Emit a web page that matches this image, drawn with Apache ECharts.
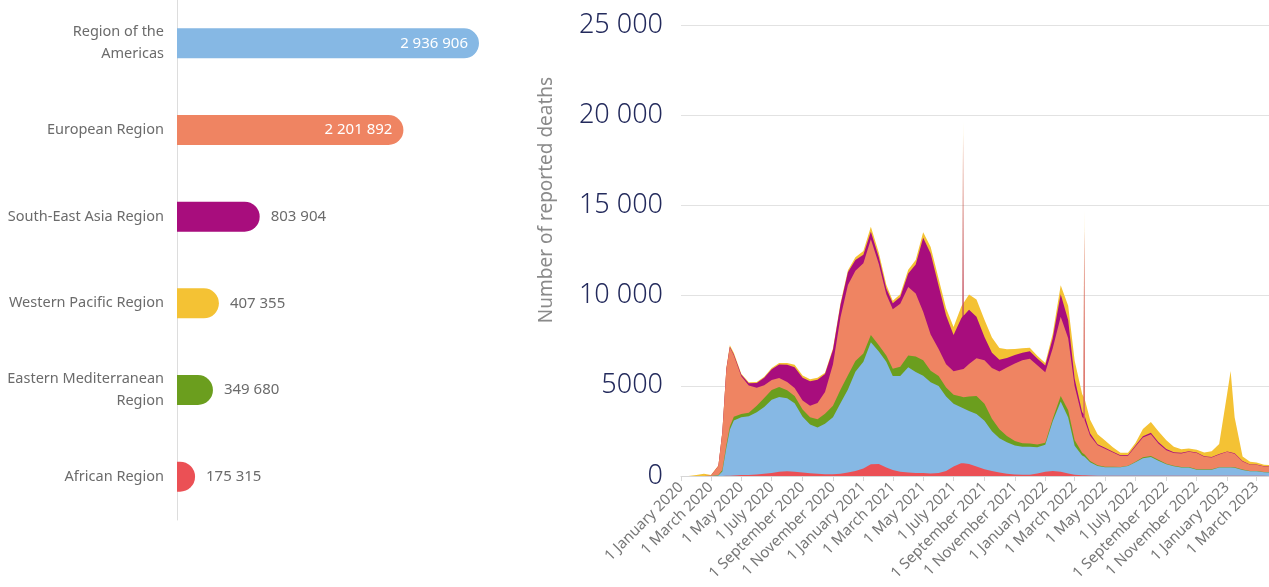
<!DOCTYPE html>
<html>
<head>
<meta charset="utf-8">
<title>Reported COVID-19 deaths by WHO region</title>
<script src="https://cdn.jsdelivr.net/npm/echarts@6/dist/echarts.min.js"></script>
<style>
  html, body { margin: 0; padding: 0; background: #fff; }
  #chart { width: 1269px; height: 587px; }
</style>
</head>
<body>
<div id="chart"></div>
<script>
// left panel: cumulative deaths per region
var regionNames = ["Region of the\nAmericas", "European Region", "South-East Asia Region",
  "Western Pacific Region", "Eastern Mediterranean\nRegion", "African Region"];
var regionTotals = [2936906, 2201892, 803904, 407355, 349680, 175315];
var regionColors = ["#86b8e4", "#ef8462", "#a80d7d", "#f4c234", "#6b9e1e", "#eb5055"];

// right panel: reported deaths (~half-monthly)
var dates = [
  "2020-01-01","2020-01-16","2020-02-01","2020-02-16","2020-03-01","2020-03-16","2020-03-24","2020-04-01","2020-04-08","2020-04-16",
  "2020-05-01","2020-05-16","2020-06-01","2020-06-16","2020-07-01","2020-07-16","2020-08-01","2020-08-16","2020-09-01","2020-09-16",
  "2020-10-01","2020-10-16","2020-11-01","2020-11-16","2020-12-01","2020-12-16",
  "2021-01-01","2021-01-16","2021-02-01","2021-02-16","2021-03-01","2021-03-16","2021-04-01","2021-04-16","2021-05-01","2021-05-16",
  "2021-06-01","2021-06-16","2021-07-01","2021-07-16","2021-07-19","2021-07-20","2021-07-21","2021-08-01","2021-08-16","2021-09-01",
  "2021-09-16","2021-10-01","2021-10-16","2021-11-01","2021-11-16","2021-12-01","2021-12-16",
  "2022-01-01","2022-01-16","2022-02-01","2022-02-16","2022-03-01","2022-03-16","2022-03-19","2022-03-20","2022-03-21","2022-04-01",
  "2022-04-16","2022-05-01","2022-05-16","2022-06-01","2022-06-16","2022-07-01","2022-07-16","2022-08-01","2022-08-16","2022-09-01",
  "2022-09-16","2022-10-01","2022-10-16","2022-11-01","2022-11-16","2022-12-01","2022-12-16",
  "2023-01-01","2023-01-08","2023-01-16","2023-02-01","2023-02-16","2023-03-01","2023-03-16","2023-03-26"
];
var africa = [
  0,0,0,0,0,2,5,10,20,30, 50,60,90,130,170,230,260,230,190,150, 120,100,100,130,190,280,
  420,650,660,470,330,240,190,170,160,140, 170,280,520,700,700,700,700,660,520,380, 280,190,120,85,65,65,140,
  230,280,230,140,75,40,38,38,36,28, 20,20,20,20,20,20,20,18,15,15, 12,12,10,10,10,10,10,
  10,10,10,8,8,8,8,8
];
var americas = [
  0,0,0,0,0,20,250,1550,2550,3050, 3200,3250,3450,3700,4050,4150,4050,3800,3100,2700, 2570,2800,3150,3900,4600,5500,
  5920,6770,6240,5860,5220,5310,5840,5600,5400,5050, 4820,4120,3490,3110,3080,3050,3030,2950,2910,2680, 2200,1900,1750,1600,1550,1550,1450,
  1500,2750,3900,3100,1600,1100,1050,1040,1030,730, 540,460,460,460,530,740,970,1030,830,630, 530,460,460,340,340,340,460,
  460,460,450,330,250,250,200,190
];
var easternMed = [
  0,0,0,0,5,30,80,150,170,200, 180,200,350,500,550,550,450,400,400,400, 450,550,650,750,800,600,
  450,400,350,350,400,500,650,850,850,650, 550,500,500,600,620,630,640,800,1000,950, 700,500,350,250,200,180,150,
  120,150,300,400,300,150,140,140,130,80, 40,30,30,25,25,30,50,60,50,35, 30,25,25,20,20,20,20,
  20,20,20,20,15,15,15,15
];
var europe = [
  0,0,0,0,5,500,2100,4200,4400,3400, 2100,1500,1000,700,550,500,450,450,500,650, 900,1200,2300,4000,5000,5000,
  5000,5300,4500,3400,3300,3500,3800,3500,2700,2000, 1500,1300,1300,1500,1550,1550,1560,1800,2100,2400, 2800,3200,3800,4300,4600,4700,4400,
  3900,3900,4400,4000,3000,2000,1950,12300,1900,1400, 1100,1000,800,600,550,850,1100,1200,900,750, 700,750,850,900,700,650,700,
  850,800,750,450,350,350,300,300
];
var southEastAsia = [
  0,0,0,0,0,2,5,15,30,50, 80,130,270,420,600,750,950,1150,1250,1350, 1300,1000,800,700,700,600,
  480,420,370,320,320,370,750,1600,4100,4500, 3500,2700,2000,2800,2900,13000,2950,3000,2300,1300, 850,650,520,470,420,420,370,
  370,550,1250,1000,420,260,250,250,240,130, 65,55,45,40,40,45,65,85,85,65, 45,35,30,30,30,30,30,
  25,25,25,20,20,20,20,20
];
var westernPacific = [
  0,5,50,120,40,30,40,60,80,100, 60,60,50,50,60,80,100,130,130,120, 100,80,80,100,120,150,
  200,280,250,200,150,150,200,250,300,350, 400,400,450,650,680,700,710,850,950,950, 850,650,480,340,250,200,150,
  150,250,500,800,1000,1000,950,950,950,750, 550,400,250,150,120,150,400,600,600,480, 300,200,150,150,200,320,550,
  3200,4500,2000,250,150,100,80,70
];
var tickDates = ["2020-01-01","2020-03-01","2020-05-01","2020-07-01","2020-09-01","2020-11-01",
  "2021-01-01","2021-03-01","2021-05-01","2021-07-01","2021-09-01","2021-11-01",
  "2022-01-01","2022-03-01","2022-05-01","2022-07-01","2022-09-01","2022-11-01",
  "2023-01-01","2023-03-01"];
var monthNames = ["January","February","March","April","May","June","July","August",
  "September","October","November","December"];

// stacking order, bottom to top
var stackRegions = [
  { name: "African Region", values: africa, color: "#eb5055" },
  { name: "Region of the Americas", values: americas, color: "#86b8e4" },
  { name: "Eastern Mediterranean Region", values: easternMed, color: "#6b9e1e" },
  { name: "European Region", values: europe, color: "#ef8462" },
  { name: "South-East Asia Region", values: southEastAsia, color: "#a80d7d" },
  { name: "Western Pacific Region", values: westernPacific, color: "#f4c234" }
];

function spaced(n) {
  return String(n).replace(/\B(?=(\d{3})+(?!\d))/g, " ");
}

var font = "'Noto Sans', sans-serif";
var chart = echarts.init(document.getElementById("chart"));
var times = dates.map(function (d) { return Date.parse(d); });
var tickTimes = tickDates.map(function (d) { return Date.parse(d); });

var series = [{
  type: "bar",
  xAxisIndex: 0,
  yAxisIndex: 0,
  barWidth: 30,
  silent: true,
  data: regionTotals.map(function (v, i) {
    return {
      value: v,
      itemStyle: { color: regionColors[i], borderRadius: [0, 15, 15, 0] },
      label: i < 2
        ? { position: "insideRight", color: "#fff", distance: 11 }
        : { position: "right", color: "#6b6b6b", distance: 11 }
    };
  }),
  label: {
    show: true, fontFamily: font, fontSize: 15,
    formatter: function (p) { return spaced(p.value); }
  }
}];

// running totals, so each band is drawn from zero up to its top edge
var running = dates.map(function () { return 0; });
var areaSeries = stackRegions.map(function (r) {
  running = running.map(function (s, i) { return s + r.values[i]; });
  return {
    type: "line",
    name: r.name,
    xAxisIndex: 1,
    yAxisIndex: 1,
    symbol: "none",
    silent: true,
    lineStyle: { width: 0 },
    areaStyle: { color: r.color, opacity: 1 },
    itemStyle: { color: r.color },
    data: running.map(function (s, i) { return [times[i], s]; })
  };
});
// top band first, so lower bands are painted over it
series = series.concat(areaSeries.reverse());

chart.setOption({
  animation: false,
  textStyle: { fontFamily: font },
  grid: [
    { left: 177, top: 0, width: 302, height: 520 },
    { left: 681, right: 0, top: 25, bottom: 111 }
  ],
  xAxis: [
    { gridIndex: 0, type: "value", min: 0, max: "dataMax", show: false },
    {
      gridIndex: 1, type: "value", min: Date.parse("2020-01-01"), max: Date.parse("2023-03-26"),
      axisLine: { lineStyle: { color: "#d6d6d6" } },
      axisTick: { show: true, length: 5, lineStyle: { color: "#d6d6d6" }, customValues: tickTimes },
      splitLine: { show: false },
      axisLabel: {
        customValues: tickTimes, rotate: 45, color: "#777777", fontSize: 15, margin: 9,
        formatter: function (v) {
          var d = new Date(v);
          return "1 " + monthNames[d.getUTCMonth()] + " " + d.getUTCFullYear();
        }
      }
    }
  ],
  yAxis: [
    {
      gridIndex: 0, type: "category", inverse: true, data: regionNames,
      axisLine: { lineStyle: { color: "#dddddd", width: 1 } },
      axisTick: { show: false },
      axisLabel: { color: "#6b6b6b", fontSize: 14.5, margin: 13, lineHeight: 22 }
    },
    {
      gridIndex: 1, type: "value", min: 0, max: 25000, interval: 5000,
      axisLine: { show: false }, axisTick: { show: false },
      splitLine: { lineStyle: { color: "#e2e2e2", width: 1 } },
      axisLabel: {
        color: "#232a5c", fontSize: 27, fontWeight: 300, margin: 18,
        formatter: function (v) { return v < 10000 ? String(v) : spaced(v); }
      }
    }
  ],
  graphic: [{
    type: "text",
    x: 547, y: 200,
    rotation: Math.PI / 2,
    style: {
      text: "Number of reported deaths", fill: "#8a8a8a",
      font: "19px " + font, align: "center", verticalAlign: "middle"
    }
  }],
  series: series
});
</script>
</body>
</html>
